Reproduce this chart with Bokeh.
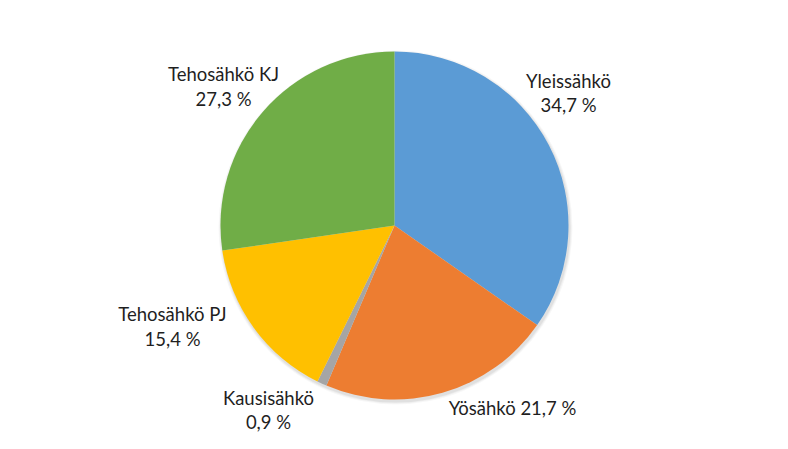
import numpy as np
from bokeh.plotting import figure
from bokeh.models import ColumnDataSource, Range1d
from bokeh.core.properties import value
from bokeh.embed import file_html
from bokeh.resources import INLINE

# Electricity tariff shares (%)
categories = ["Yleissähkö", "Yösähkö", "Kausisähkö", "Tehosähkö PJ", "Tehosähkö KJ"]
shares = [34.7, 21.7, 0.9, 15.4, 27.3]
colors = ["#5B9BD5", "#ED7D31", "#A5A5A5", "#FFC000", "#70AD47"]

W, H = 788, 449
cx, cy, r = 394, H - 225, 174

# wedge angles: start at 12 o'clock, go clockwise
frac = np.array(shares) / sum(shares)
ends = np.pi / 2 - 2 * np.pi * np.cumsum(frac)
starts = np.concatenate([[np.pi / 2], ends[:-1]])

src = ColumnDataSource(dict(start=starts, end=ends, color=colors, cat=categories))

p = figure(width=W, height=H, output_backend="svg", toolbar_location=None,
           x_range=Range1d(0, W), y_range=Range1d(0, H), min_border=0)
p.axis.visible = False
p.grid.visible = False
p.outline_line_color = None
p.background_fill_color = "white"

# soft drop shadow beneath the pie
for i, a in enumerate([0.05, 0.04, 0.03]):
    p.circle(x=[cx + 1], y=[cy - 2], radius=r + 1 + i, fill_color="#000000",
             fill_alpha=a, line_color=None)

p.wedge(x=cx, y=cy, radius=r, start_angle="end", end_angle="start",
        fill_color="color", line_color=None, source=src)

# label placement (screen px from top-left) for each category
label_pos = {
    "Yleissähkö": (568, 80, 104),
    "Yösähkö": (512, 407, None),
    "Kausisähkö": (268, 397, 421),
    "Tehosähkö PJ": (172, 313, 338),
    "Tehosähkö KJ": (223, 73, 98),
}
lx, ly, lt = [], [], []
for c, s in zip(categories, shares):
    x, y1, y2 = label_pos[c]
    pct = f"{s:.1f}".replace(".", ",") + " %"
    if y2 is None:
        lx.append(x); ly.append(H - y1); lt.append(f"{c} {pct}")
    else:
        lx += [x, x]; ly += [H - y1, H - y2]; lt += [c, pct]

p.text(x=lx, y=ly, text=lt, text_align="center", text_baseline="middle",
       text_font=value("Lato"), text_font_size="18.5px", text_color="#1f1f1f")

open("out.html", "w").write(file_html(p, INLINE))
